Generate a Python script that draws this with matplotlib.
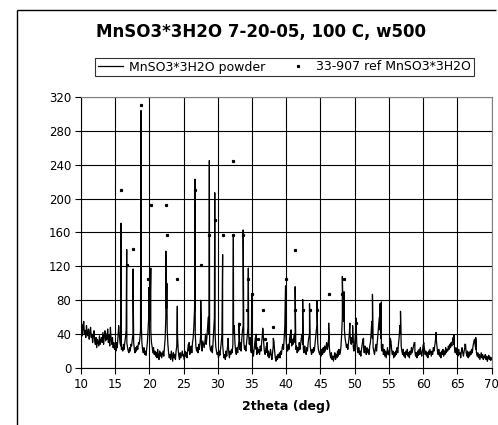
import numpy as np
import matplotlib.pyplot as plt
from matplotlib.lines import Line2D

# ---------------- data ----------------
# background trace, one value every 0.1 deg from 10.0 to 70.0 (one row per degree)
scan_start, scan_step = 10.0, 0.1
background = [
    45, 52, 38, 48, 55, 40, 44, 36, 50, 42,   # 10
    38, 46, 34, 42, 48, 36, 40, 30, 38, 44,   # 11
    32, 28, 36, 24, 34, 30, 26, 38, 28, 33,   # 12
    36, 30, 42, 28, 38, 44, 32, 40, 34, 46,   # 13
    30, 38, 26, 48, 34, 28, 36, 24, 30, 22,   # 14
    26, 20, 30, 24, 36, 48, 40, 30, 26, 22,   # 15
    24, 20, 28, 22, 30, 36, 45, 30, 24, 20,   # 16
    18, 24, 20, 28, 26, 34, 40, 30, 22, 18,   # 17
    24, 20, 26, 22, 30, 28, 34, 45, 55, 30,   # 18
    22, 18, 24, 16, 20, 15, 22, 30, 45, 60,   # 19
    55, 70, 45, 30, 25, 18, 24, 16, 20, 14,   # 20
    18, 12, 22, 15, 10, 20, 14, 18, 12, 16,   # 21
    20, 14, 24, 35, 60, 70, 45, 28, 18, 12,   # 22
    16, 10, 20, 14, 8, 18, 12, 16, 10, 20,    # 23
    26, 40, 22, 14, 10, 18, 12, 16, 20, 14,   # 24
    16, 10, 20, 14, 18, 12, 22, 28, 20, 16,   # 25
    22, 26, 18, 30, 36, 50, 70, 40, 25, 20,   # 26
    24, 18, 28, 22, 30, 40, 28, 20, 32, 28,   # 27
    24, 30, 40, 28, 36, 48, 60, 40, 28, 22,   # 28
    20, 26, 18, 30, 45, 60, 40, 25, 20, 16,   # 29
    18, 12, 20, 15, 22, 30, 40, 28, 18, 12,   # 30
    16, 10, 20, 14, 24, 30, 18, 12, 20, 16,   # 31
    22, 18, 28, 40, 50, 30, 20, 16, 24, 18,   # 32
    26, 32, 22, 30, 20, 34, 44, 50, 30, 22,   # 33
    26, 20, 30, 38, 48, 40, 28, 36, 22, 18,   # 34
    26, 20, 14, 22, 30, 36, 22, 16, 24, 18,   # 35
    22, 16, 26, 20, 30, 38, 45, 30, 20, 16,   # 36
    22, 26, 18, 14, 20, 12, 16, 22, 15, 10,   # 37
    18, 26, 32, 20, 12, 8, 14, 10, 16, 12,    # 38
    18, 12, 20, 16, 24, 28, 22, 35, 50, 45,   # 39
    30, 24, 20, 28, 22, 35, 40, 30, 26, 34,   # 40
    28, 36, 40, 30, 22, 26, 18, 24, 20, 30,   # 41
    22, 28, 35, 40, 28, 22, 18, 26, 20, 16,   # 42
    24, 20, 30, 36, 40, 26, 20, 16, 22, 18,   # 43
    24, 20, 28, 35, 45, 50, 30, 22, 18, 16,   # 44
    20, 14, 22, 16, 24, 18, 26, 20, 24, 30,   # 45
    22, 26, 35, 24, 16, 12, 18, 10, 14, 8,    # 46
    14, 18, 10, 16, 12, 20, 14, 22, 16, 18,   # 47
    26, 40, 60, 70, 55, 45, 35, 30, 24, 28,   # 48
    22, 30, 38, 45, 32, 28, 36, 30, 24, 20,   # 49
    28, 40, 45, 30, 22, 18, 24, 16, 20, 14,   # 50
    22, 28, 34, 24, 18, 26, 20, 16, 24, 18,   # 51
    22, 16, 26, 30, 40, 55, 35, 24, 20, 16,   # 52
    22, 28, 20, 30, 40, 50, 60, 45, 35, 24,   # 53
    20, 28, 16, 22, 14, 20, 12, 18, 24, 16,   # 54
    20, 14, 28, 32, 22, 16, 20, 12, 18, 14,   # 55
    20, 16, 24, 18, 28, 36, 50, 40, 26, 20,   # 56
    16, 22, 14, 18, 12, 20, 16, 22, 14, 18,   # 57
    12, 20, 16, 24, 18, 22, 26, 30, 20, 14,   # 58
    18, 12, 20, 15, 22, 16, 24, 18, 14, 20,   # 59
    26, 30, 22, 16, 20, 14, 18, 12, 20, 16,   # 60
    22, 18, 14, 20, 16, 24, 20, 26, 32, 36,   # 61
    28, 20, 16, 22, 14, 18, 12, 20, 16, 22,   # 62
    14, 20, 16, 24, 18, 22, 20, 26, 22, 28,   # 63
    24, 30, 26, 32, 36, 28, 22, 18, 24, 16,   # 64
    20, 14, 22, 16, 18, 12, 20, 24, 18, 14,   # 65
    20, 24, 28, 18, 14, 20, 12, 18, 14, 20,   # 66
    16, 22, 18, 26, 30, 34, 28, 22, 18, 14,   # 67
    18, 12, 16, 10, 14, 18, 12, 16, 10, 14,   # 68
    12, 16, 10, 14, 8, 12, 15, 10, 13, 9,     # 69
    12,                                       # 70
]

# peak tops of the measured powder pattern (2theta, counts)
peak_pos = [15.5, 15.85, 16.68, 17.6, 18.77, 19.9, 20.2, 22.4, 22.55, 24.08, 25.8,
            26.67, 27.5, 28.2, 28.76, 29.55, 30.7, 31.5, 32.27, 33.1, 33.7, 34.46, 34.95,
            35.6, 36.56, 37.2, 38.1, 39.9, 40.7, 41.3, 42.4, 43.4, 44.5, 46.2, 48.2,
            48.45, 49.3, 49.7, 50.2, 51.3, 52.6, 53.7, 53.9, 55.2, 56.7, 58.8, 60.1,
            61.9, 64.5, 66.1, 67.7]
peak_int = [50, 171, 140, 117, 304, 95, 118, 138, 100, 73, 30,
            223, 80, 40, 245, 207, 134, 35, 155, 53, 163, 118, 88,
            40, 47, 30, 35, 97, 45, 96, 81, 76, 79, 53, 108,
            90, 53, 50, 59, 35, 87, 76, 78, 35, 67, 30, 30,
            42, 39, 28, 36]

# 33-907 reference card lines
ref_pos = [15.85, 16.68, 17.6, 18.77, 19.85, 20.24, 22.4, 22.6, 24.08, 26.67, 27.5, 28.76,
           29.6, 30.7, 32.27, 32.27, 33.1, 33.7, 34.2, 34.46, 35.05, 35.8, 36.6, 36.9,
           38.1, 39.9, 40.55, 41.3, 41.3, 42.4, 43.4, 44.5, 46.3, 48.1, 48.45, 50.2]
ref_int = [210, 122, 140, 310, 105, 192, 192, 157, 105, 210, 122, 157,
           175, 157, 244, 157, 52, 157, 69, 105, 87, 34, 69, 34,
           49, 105, 34, 139, 69, 69, 69, 69, 87, 87, 105, 53]

# ---------------- merge background and peaks into one trace ----------------
bg_x = scan_start + scan_step * np.arange(len(background))
tx = np.concatenate([bg_x, peak_pos])
ty = np.concatenate([background, peak_int])
order = np.argsort(tx, kind="stable")
tx, ty = tx[order], ty[order]

# ---------------- figure ----------------
fig = plt.figure(figsize=(4.98, 4.25), dpi=100)
# chart-area border: only its left and top edges fall inside the image
bx, by = 17 / 498, 1 - 9.5 / 425
fig.add_artist(Line2D([bx, bx], [0, by], transform=fig.transFigure, color="black",
                      linewidth=1.0, solid_capstyle="butt"))
fig.add_artist(Line2D([bx, 0.996], [by, by], transform=fig.transFigure, color="black",
                      linewidth=1.0, solid_capstyle="butt"))

ax = fig.add_axes([81 / 498, 57 / 425, 410.5 / 498, 271 / 425])
ax.plot(tx, ty, color="black", linewidth=0.9, label="MnSO3*3H2O powder")
ax.plot(ref_pos, ref_int, linestyle="none", marker="s", markersize=1.3,
        color="black", label="33-907 ref MnSO3*3H2O")

ax.set_xlim(10, 70)
ax.set_ylim(0, 320)
ax.set_xticks(np.arange(10, 71, 5))
ax.set_yticks(np.arange(0, 321, 40))
ax.grid(True, color="black", linewidth=0.8)
ax.set_axisbelow(True)
ax.tick_params(direction="out", length=4, width=0.8, labelsize=8.5, pad=3)
for side in ["top", "right"]:
    ax.spines[side].set_color("#808080")
ax.set_xlabel("2theta (deg)", fontsize=9, fontweight="bold", labelpad=7)

fig.text(261 / 498, 1 - 32 / 425, "MnSO3*3H2O 7-20-05, 100 C, w500",
         ha="center", va="center", fontsize=12, fontweight="bold")

leg = fig.legend(loc="center", bbox_to_anchor=(284.5 / 498, 1 - 67 / 425), ncol=2,
                 fontsize=9, frameon=True, fancybox=False, edgecolor="black",
                 borderpad=0.2, handlelength=2.0, handletextpad=0.5,
                 columnspacing=1.6, markerscale=1.0)
leg.get_frame().set_linewidth(0.8)

fig.savefig("out.png", dpi=100)
